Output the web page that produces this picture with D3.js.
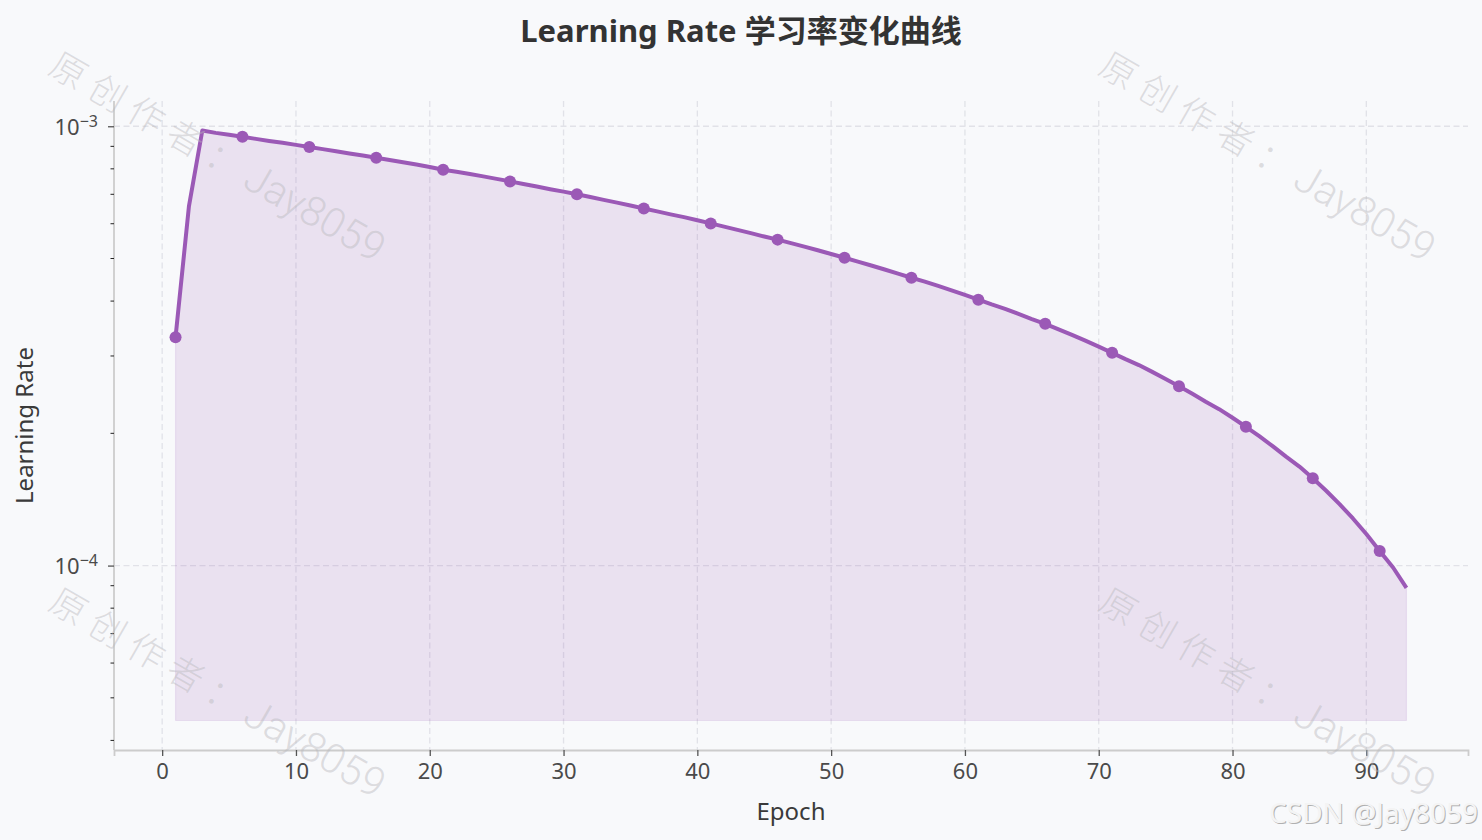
<!DOCTYPE html>
<html>
<head>
<meta charset="utf-8">
<script src="https://cdn.jsdelivr.net/npm/d3@7"></script>
<style>
  body { margin: 0; background: #f8f9fb; }
  .chart text { font-family: "Noto Sans", "Noto Sans CJK SC", sans-serif; }
</style>
</head>
<body>
<div class="chart"></div>
<script>
// learning rate per epoch (epoch 1..93)
const learningRate = [
  3.31e-4, 6.57e-4, 9.78e-4, 9.66e-4, 9.56e-4, 9.46e-4, 9.36e-4, 9.26e-4, 9.17e-4, 9.07e-4,
  8.97e-4, 8.87e-4, 8.77e-4, 8.67e-4, 8.58e-4, 8.48e-4, 8.38e-4, 8.28e-4, 8.18e-4, 8.08e-4,
  7.96e-4, 7.88e-4, 7.79e-4, 7.69e-4, 7.59e-4, 7.49e-4, 7.39e-4, 7.29e-4, 7.19e-4, 7.10e-4,
  7.00e-4, 6.90e-4, 6.80e-4, 6.70e-4, 6.60e-4, 6.50e-4, 6.40e-4, 6.30e-4, 6.21e-4, 6.11e-4,
  6.01e-4, 5.91e-4, 5.81e-4, 5.71e-4, 5.61e-4, 5.52e-4, 5.42e-4, 5.32e-4, 5.22e-4, 5.12e-4,
  5.02e-4, 4.92e-4, 4.82e-4, 4.72e-4, 4.62e-4, 4.52e-4, 4.43e-4, 4.33e-4, 4.23e-4, 4.13e-4,
  4.03e-4, 3.93e-4, 3.84e-4, 3.74e-4, 3.64e-4, 3.55e-4, 3.45e-4, 3.35e-4, 3.25e-4, 3.15e-4,
  3.05e-4, 2.95e-4, 2.86e-4, 2.76e-4, 2.66e-4, 2.56e-4, 2.46e-4, 2.36e-4, 2.27e-4, 2.17e-4,
  2.07e-4, 1.97e-4, 1.87e-4, 1.77e-4, 1.68e-4, 1.58e-4, 1.48e-4, 1.38e-4, 1.28e-4, 1.18e-4,
  1.08e-4, 0.99e-4, 0.89e-4
];
const markerEpochs = [1, 6, 11, 16, 21, 26, 31, 36, 41, 46, 51, 56, 61, 66, 71, 76, 81, 86, 91];
const xTicks = [0, 10, 20, 30, 40, 50, 60, 70, 80, 90];
const yMajorTicks = [1e-4, 1e-3];
const yMinorTicks = [4e-5, 5e-5, 6e-5, 7e-5, 8e-5, 9e-5, 2e-4, 3e-4, 4e-4, 5e-4, 6e-4, 7e-4, 8e-4, 9e-4];
const fillFloor = 4.44e-5; // lower edge of the shaded area
const watermarkCn = "原创作者：";
const watermarkEn = "Jay8059";

const W = 1482, H = 840;
const margin = { top: 101, right: 14, bottom: 90, left: 114 };
const width = W - margin.left - margin.right,
  height = H - margin.top - margin.bottom;
const purple = "#9b59b6";

const data = learningRate.map((v, i) => ({ epoch: i + 1, lr: v }));

const svg = d3.select(".chart").append("svg")
  .attr("width", W).attr("height", H)
  .style("display", "block")
  .style("background", "#f8f9fb");

const g = svg.append("g").attr("transform", `translate(${margin.left}, ${margin.top})`);

// scales with 5% padding like matplotlib
const xExt = d3.extent(data, d => d.epoch);
const xPad = (xExt[1] - xExt[0]) * 0.05;
const x = d3.scaleLinear().domain([xExt[0] - xPad, xExt[1] + xPad]).range([0, width]);

const lo = Math.log10(fillFloor), hi = Math.log10(d3.max(learningRate));
const yPad = (hi - lo) * 0.05;
const y = d3.scaleLog().domain([10 ** (lo - yPad), 10 ** (hi + yPad)]).range([height, 0]);

// grid
g.append("g").selectAll("line").data(xTicks).join("line")
  .attr("x1", d => x(d)).attr("x2", d => x(d))
  .attr("y1", 0).attr("y2", height)
  .attr("stroke", "#e1e2e8").attr("stroke-width", 1.3).attr("stroke-dasharray", "6,3.5");
g.append("g").selectAll("line").data(yMajorTicks).join("line")
  .attr("x1", 0).attr("x2", width)
  .attr("y1", d => y(d)).attr("y2", d => y(d))
  .attr("stroke", "#e1e2e8").attr("stroke-width", 1.3).attr("stroke-dasharray", "6,3.5");

// shaded area
const area = d3.area().x(d => x(d.epoch)).y0(y(fillFloor)).y1(d => y(d.lr));
g.append("path").datum(data)
  .attr("d", area)
  .attr("fill", purple).attr("fill-opacity", 0.15)
  .attr("stroke", purple).attr("stroke-opacity", 0.12).attr("stroke-width", 1.2);

// watermarks
const marks = [[216, 159], [1266, 159], [216, 695], [1266, 695]];
const wm = svg.append("g").selectAll("text").data(marks).join("text")
  .attr("transform", d => `translate(${d[0]}, ${d[1]}) rotate(30)`)
  .attr("text-anchor", "middle")
  .attr("dominant-baseline", "middle")
  .attr("fill", "#b8b8bc").attr("fill-opacity", 0.45);
wm.append("tspan")
  .style("font-family", "'Noto Sans CJK SC', sans-serif")
  .style("font-size", "36px")
  .style("font-weight", 300)
  .style("letter-spacing", "9px")
  .text(watermarkCn);
wm.append("tspan")
  .style("font-family", "'Roboto', sans-serif")
  .style("font-size", "41px")
  .style("font-weight", 300)
  .text(watermarkEn);

// line + markers
const line = d3.line().x(d => x(d.epoch)).y(d => y(d.lr));
g.append("path").datum(data)
  .attr("d", line)
  .attr("fill", "none").attr("stroke", purple).attr("stroke-width", 4)
  .attr("stroke-linejoin", "round");
g.append("g").selectAll("circle")
  .data(data.filter(d => markerEpochs.includes(d.epoch)))
  .join("circle")
  .attr("cx", d => x(d.epoch)).attr("cy", d => y(d.lr))
  .attr("r", 6).attr("fill", purple);

// axes (left and bottom spines only)
const xAxis = g.append("g").attr("transform", `translate(0, ${height})`)
  .call(d3.axisBottom(x).tickValues(xTicks).tickSize(6).tickPadding(7).tickFormat(d3.format("d")));
xAxis.select(".domain").attr("stroke", "#cccccc").attr("stroke-width", 1.8);
xAxis.selectAll(".tick line").attr("stroke", "#555").attr("stroke-width", 1.3);
xAxis.selectAll(".tick text").attr("fill", "#4a4a4a").style("font-size", "22px");

const yAxis = g.append("g")
  .call(d3.axisLeft(y).tickValues(yMajorTicks).tickSize(6).tickPadding(9).tickFormat(""));
yAxis.select(".domain").attr("stroke", "#cccccc").attr("stroke-width", 1.8)
  .attr("d", `M0,0V${height}`);
yAxis.selectAll(".tick line").attr("stroke", "#555").attr("stroke-width", 1.3);
yAxis.selectAll(".tick text").remove();
yAxis.selectAll(".tick").append("text")
  .attr("x", -16).attr("dy", "0.38em")
  .attr("text-anchor", "end")
  .attr("fill", "#4a4a4a").style("font-size", "22px")
  .each(function (d) {
    const t = d3.select(this);
    t.append("tspan").text("10");
    t.append("tspan").attr("dy", "-0.5em").style("font-size", "16px")
      .text("\u2212" + Math.round(-Math.log10(d)));
  });
g.append("g").selectAll("line").data(yMinorTicks).join("line")
  .attr("x1", -3.5).attr("x2", 0)
  .attr("y1", d => y(d)).attr("y2", d => y(d))
  .attr("stroke", "#222").attr("stroke-width", 1);

// labels
svg.append("text")
  .attr("x", margin.left + width / 2).attr("y", 820)
  .attr("text-anchor", "middle").attr("fill", "#3a3a3a")
  .style("font-size", "24px").text("Epoch");
svg.append("text")
  .attr("transform", `translate(33, ${margin.top + height / 2}) rotate(-90)`)
  .attr("text-anchor", "middle").attr("fill", "#3a3a3a")
  .style("font-size", "24px").text("Learning Rate");
svg.append("text")
  .attr("x", W / 2).attr("y", 42)
  .attr("text-anchor", "middle").attr("fill", "#333")
  .style("font-size", "31px").style("font-weight", "bold")
  .text("Learning Rate 学习率变化曲线");

// csdn tag
const tag = svg.append("g").style("font-family", "'Liberation Sans', Arial, sans-serif").style("font-size", "28px");
tag.append("text").attr("x", 1479).attr("y", 824).attr("text-anchor", "end")
  .attr("fill", "#b0b0b0").text("CSDN @Jay8059");
tag.append("text").attr("x", 1478).attr("y", 823).attr("text-anchor", "end")
  .attr("fill", "#f4f4f4").text("CSDN @Jay8059");
</script>
</body>
</html>
